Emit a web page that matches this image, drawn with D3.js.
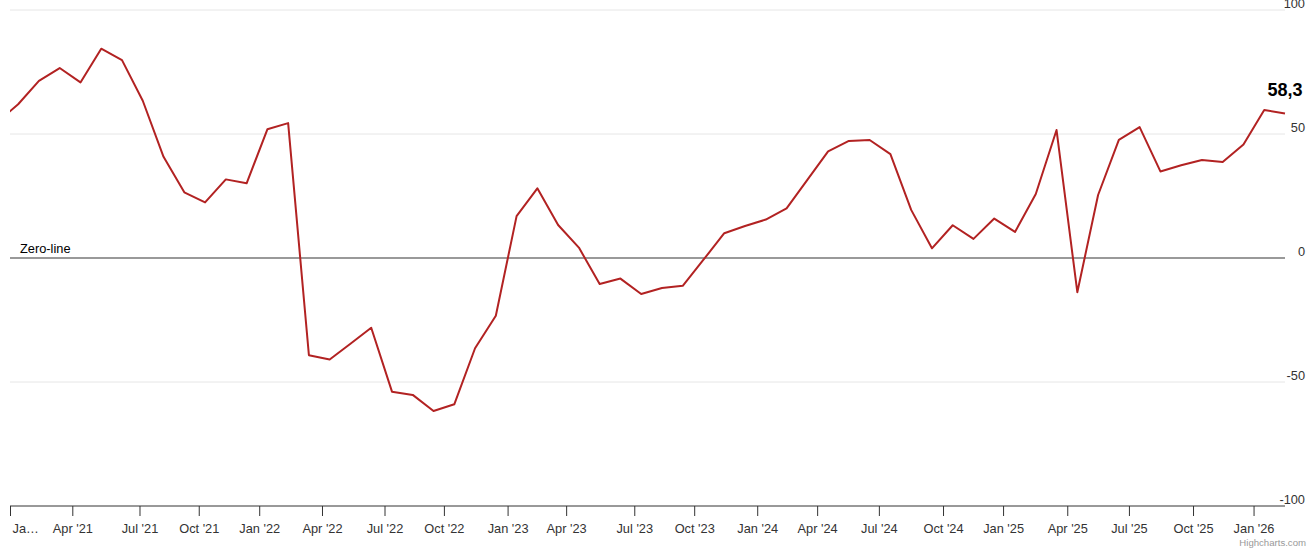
<!DOCTYPE html>
<html>
<head>
<meta charset="utf-8">
<script src="https://cdn.jsdelivr.net/npm/d3@7"></script>
<style>
  body { margin: 0; background: #fff; }
  svg { display: block; font-family: "Liberation Sans", Helvetica, Arial, sans-serif; }
</style>
</head>
<body>
<svg id="vis" width="1316" height="551"></svg>
<script>
const svg = d3.select("#vis");

// one reading per month; the Dec '20 one sits left of the axis start and is clipped
const DATES = ["2020-12-15",
  "2021-01-12","2021-02-15","2021-03-15","2021-04-12","2021-05-15","2021-06-15","2021-07-04","2021-08-15","2021-09-15","2021-10-08","2021-11-15","2021-12-15",
  "2022-01-12","2022-02-15","2022-03-15","2022-04-11","2022-05-15","2022-06-15","2022-07-10","2022-08-15","2022-09-15","2022-10-17","2022-11-15","2022-12-15",
  "2023-01-14","2023-02-15","2023-03-15","2023-04-28","2023-05-15","2023-06-15","2023-07-09","2023-08-15","2023-09-15","2023-10-14","2023-11-15","2023-12-15",
  "2024-01-13","2024-02-15","2024-03-15","2024-04-20","2024-05-15","2024-06-15","2024-07-21","2024-08-15","2024-09-15","2024-10-15","2024-11-15","2024-12-15",
  "2025-01-24","2025-02-15","2025-03-15","2025-04-17","2025-05-15","2025-06-15","2025-07-18","2025-08-15","2025-09-15","2025-10-13","2025-11-15","2025-12-15",
  "2026-01-19","2026-02-15"];
const VALUES = [54.8,
  62.0, 71.4, 76.6, 70.8, 84.4, 79.8, 63.4, 40.8, 26.5, 22.4, 31.7, 30.1,
  51.9, 54.4, -39.2, -40.9, -34.6, -28.1, -53.9, -55.2, -61.7, -59.0, -36.4, -23.3,
  16.9, 28.1, 13.3, 4.2, -10.5, -8.3, -14.5, -12.1, -11.2, -0.7, 10.0, 12.9,
  15.5, 20.0, 31.5, 43.0, 47.2, 47.6, 41.9, 19.4, 3.9, 13.2, 7.7, 15.9,
  10.5, 25.8, 51.6, -13.8, 25.4, 47.6, 52.8, 34.9, 37.4, 39.5, 38.7, 45.8,
  59.7, 58.3];
const Y_TICKS = [-100, -50, 0, 50, 100];
const X_START = "2021-01-01";
const LINE_COLOR = "#b22222";

const margin = {left: 10, right: 31, top: 10, bottom: 45};
const W = 1316, H = 551;

const parseDay = d3.timeParse("%Y-%m-%d");
const pointData = DATES.map((d, i) => ({date: parseDay(d), value: VALUES[i]}));
const dates = pointData.map(d => d.date);

// ordinal x axis: points evenly spaced, dates in between interpolated
const idxOf = d3.scaleTime().domain(dates).range(dates.map((d, i) => i));
const px = d3.scaleLinear()
  .domain([idxOf(parseDay(X_START)), dates.length - 1])
  .range([margin.left, W - margin.right]);
const x = d3.scaleTime().domain(dates).range(dates.map((d, i) => px(i)));
const y = d3.scaleLinear().domain([-100, 100]).range([H - margin.bottom, margin.top]);

const x0 = margin.left, x1 = W - margin.right;

// grid
svg.append("g").selectAll("line").data(Y_TICKS.filter(t => t !== 0 && t !== -100)).join("line")
  .attr("x1", x0).attr("x2", x1)
  .attr("y1", d => y(d)).attr("y2", d => y(d))
  .attr("stroke", "#e6e6e6").attr("stroke-width", 1);

// y labels on the right, sitting just above their grid lines
svg.append("g").selectAll("text").data(Y_TICKS).join("text")
  .attr("x", 1305).attr("y", d => y(d) - 2.5)
  .attr("text-anchor", "end")
  .attr("font-size", "12.8px").attr("fill", "#333")
  .text(d => d);

// zero line
svg.append("line")
  .attr("x1", x0).attr("x2", x1)
  .attr("y1", y(0)).attr("y2", y(0))
  .attr("stroke", "#999").attr("stroke-width", 2);
svg.append("text")
  .attr("x", 20).attr("y", y(0) - 5)
  .attr("font-size", "12.8px").attr("fill", "#000")
  .text("Zero-line");

// x axis
const xTicks = d3.timeMonth.every(3).range(parseDay("2021-01-01"), parseDay("2026-02-01"));
const fmt = d3.timeFormat("%b '%y");
const xAxis = svg.append("g")
  .attr("transform", `translate(0,${y(-100)})`)
  .call(d3.axisBottom(x).tickValues(xTicks).tickFormat(fmt).tickSize(10).tickSizeOuter(0).tickPadding(8));
xAxis.select(".domain").remove();
xAxis.append("line")
  .attr("x1", x0).attr("x2", x1)
  .attr("stroke", "#333");
xAxis.selectAll(".tick line").attr("stroke", "#333");
xAxis.selectAll(".tick text")
  .attr("font-size", "12.8px").attr("fill", "#333")
  .attr("font-family", "Liberation Sans, Helvetica, Arial, sans-serif");
// first label gets squeezed by the plot edge
xAxis.selectAll(".tick text").filter((d, i) => i === 0)
  .text("Ja…").attr("text-anchor", "start").attr("x", 2);

// series
svg.append("clipPath").attr("id", "plot-clip")
  .append("rect")
  .attr("x", x0).attr("y", 0)
  .attr("width", x1 - x0 + 2).attr("height", H);

const line = d3.line().x(d => x(d.date)).y(d => y(d.value));
svg.append("path")
  .datum(pointData)
  .attr("clip-path", "url(#plot-clip)")
  .attr("d", line)
  .attr("fill", "none")
  .attr("stroke", LINE_COLOR)
  .attr("stroke-width", 2)
  .attr("stroke-linejoin", "round");

// last value label
const last = pointData[pointData.length - 1];
svg.append("text")
  .attr("x", x(last.date)).attr("y", y(last.value) - 17)
  .attr("text-anchor", "middle")
  .attr("font-size", "18px").attr("font-weight", "bold").attr("fill", "#000")
  .text(d3.format(".1f")(last.value).replace(".", ","));

// credits
svg.append("text")
  .attr("x", 1306).attr("y", 546)
  .attr("text-anchor", "end")
  .attr("font-size", "9.6px").attr("fill", "#999")
  .text("Highcharts.com");
</script>
</body>
</html>
